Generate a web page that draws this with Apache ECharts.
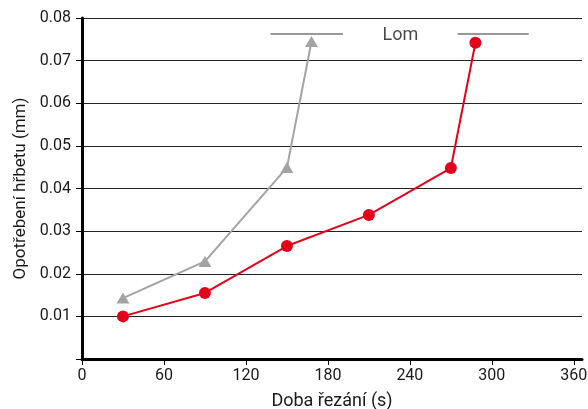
<!DOCTYPE html>
<html><head><meta charset="utf-8">
<script src="https://cdn.jsdelivr.net/npm/echarts@6/dist/echarts.min.js"></script>
<style>html,body{margin:0;padding:0;background:#fff}#c{width:588px;height:409px}</style>
</head><body><div id="c"></div>
<script>
const xTicks = [0, 60, 120, 180, 240, 300, 360];
const redX = [30, 90, 150, 210, 270, 288];
const redY = [0.0100, 0.0155, 0.0265, 0.0338, 0.0448, 0.0742];
const greyX = [30, 90, 150, 168];
const greyY = [0.0143, 0.0229, 0.0449, 0.0745];
const lomLabel = 'Lom';
const lomLeft = [138, 191];
const lomRight = [275, 327];
const lomY = 0.0764;
const lomTextX = 233;

const font = 'Roboto, "DejaVu Sans", sans-serif';
const chart = echarts.init(document.getElementById('c'), null, {renderer: 'canvas'});
chart.setOption({
  animation: false,
  grid: {left: 82, right: 6, top: 18, bottom: 50, containLabel: false, outerBoundsMode: 'none'},
  xAxis: {
    type: 'value', min: 0, max: 366,
    name: 'Doba řezání (s)', nameLocation: 'middle', nameGap: 33,
    nameTextStyle: {fontSize: 18, color: '#1a1a1a', fontFamily: font},
    axisLine: {onZero: false, lineStyle: {color: '#000', width: 3}},
    axisTick: {show: true, length: 6, lineStyle: {color: '#000', width: 1}, customValues: xTicks},
    axisLabel: {fontSize: 16, color: '#1a1a1a', fontFamily: font, margin: 9, customValues: xTicks},
    splitLine: {show: false}
  },
  yAxis: {
    type: 'value', min: 0, max: 0.08, interval: 0.01,
    name: 'Opotřebení hřbetu (mm)', nameLocation: 'middle', nameGap: 50, nameRotate: 90,
    nameTextStyle: {fontSize: 17, color: '#1a1a1a', fontFamily: font},
    axisLine: {show: true, lineStyle: {color: '#000', width: 3}},
    axisTick: {show: true, length: 6, lineStyle: {color: '#000', width: 1}},
    axisLabel: {fontSize: 16, color: '#1a1a1a', fontFamily: font, margin: 11,
      formatter: v => v === 0 ? '' : v.toFixed(2)},
    splitLine: {show: true, lineStyle: {color: '#222', width: 1}}
  },
  series: [
    {
      type: 'line', data: greyX.map((x, i) => [x, greyY[i]]),
      symbol: 'triangle', symbolSize: [13, 11],
      lineStyle: {color: '#a3a3a3', width: 2}, itemStyle: {color: '#a3a3a3'},
      z: 3
    },
    {
      type: 'line', data: redX.map((x, i) => [x, redY[i]]),
      symbol: 'circle', symbolSize: 12,
      lineStyle: {color: '#e3001b', width: 2}, itemStyle: {color: '#e3001b'},
      z: 4,
      markLine: {
        silent: true, symbol: 'none',
        lineStyle: {color: '#777', width: 1.5, type: 'solid'},
        label: {show: false},
        data: [
          [{coord: [lomLeft[0], lomY]}, {coord: [lomLeft[1], lomY]}],
          [{coord: [lomRight[0], lomY]}, {coord: [lomRight[1], lomY]}]
        ]
      }
    },
    {
      type: 'scatter', data: [[lomTextX, lomY]], symbolSize: 0,
      label: {show: true, formatter: lomLabel, position: 'inside', offset: [0, 2], fontSize: 18, color: '#1a1a1a', fontFamily: font},
      silent: true
    }
  ]
});
</script></body></html>
